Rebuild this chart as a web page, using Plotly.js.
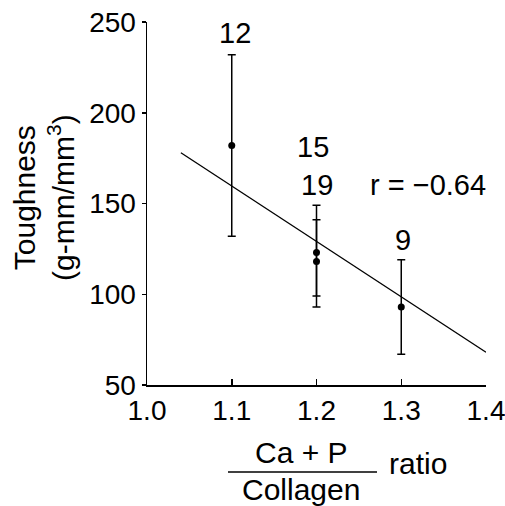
<!DOCTYPE html>
<html>
<head>
<meta charset="utf-8">
<script src="https://cdn.plot.ly/plotly-3.0.1.min.js"></script>
<style>html,body{margin:0;padding:0;background:#fff;}#chart{width:505px;height:506px;}</style>
</head>
<body>
<div id="chart"></div>
<script>
// Data
const ratio = [1.1, 1.2, 1.2, 1.3];
const toughness = [182, 123, 118, 93];
const errPlus = [50, 26, 23, 26];
const errMinus = [50, 30, 19, 26];
const sampleN = ["12", "15", "19", "9"];
const fitX = [1.04, 1.4];
const fitY = [178, 68];
const rLabel = "r = \u22120.64";
const xTicks = [1.0, 1.1, 1.2, 1.3, 1.4];
const xTickText = ["1.0", "1.1", "1.2", "1.3", "1.4"];
const yTicks = [50, 100, 150, 200, 250];
const yTitle = "Toughness<br>(g-mm/mm<sup>3</sup>)";
const xTitleTop = "Ca + P";
const xTitleBottom = "Collagen";
const xTitleSuffix = "ratio";

const FONT = "Liberation Sans, Arial, Helvetica, sans-serif";
const W = 505, H = 506, L = 147, R = 19, T = 22, B = 121;
const pw = W - L - R, ph = H - T - B;
const px = v => (v - L) / pw;
const py = v => 1 - (v - T) / ph;

const traces = [
  {
    x: ratio, y: toughness, type: "scatter", mode: "markers",
    marker: {color: "#000", size: 7},
    error_y: {type: "data", symmetric: false, array: errPlus, arrayminus: errMinus,
              color: "#000", thickness: 1.5, width: 4},
    showlegend: false, hoverinfo: "none"
  },
  {
    x: fitX, y: fitY, type: "scatter", mode: "lines",
    line: {color: "#000", width: 1.3}, showlegend: false, hoverinfo: "none"
  }
];

const txt = (size) => ({family: FONT, size: size, color: "#000"});
// label anchors (layout positions for the n labels)
const nPos = [[1.104, 244], [1.196, 181], [1.2, 160], [1.302, 130]];
const annotations = sampleN.map((t, i) => ({
  x: nPos[i][0], y: nPos[i][1], xref: "x", yref: "y", text: t, showarrow: false,
  xanchor: "center", yanchor: "middle", font: txt(29)
}));
annotations.push({x: px(428), y: 160, xref: "paper", yref: "y", text: rLabel, showarrow: false,
  xanchor: "center", yanchor: "middle", font: txt(29)});
annotations.push({x: px(301), y: py(453), xref: "paper", yref: "paper", text: xTitleTop, showarrow: false,
  xanchor: "center", yanchor: "middle", font: txt(30)});
annotations.push({x: px(301), y: py(489), xref: "paper", yref: "paper", text: xTitleBottom, showarrow: false,
  xanchor: "center", yanchor: "middle", font: txt(30)});
annotations.push({x: px(418), y: py(463), xref: "paper", yref: "paper", text: xTitleSuffix, showarrow: false,
  xanchor: "center", yanchor: "middle", font: txt(30)});
annotations.push({x: px(44), y: py(198), xref: "paper", yref: "paper", text: yTitle, showarrow: false,
  xanchor: "center", yanchor: "middle", textangle: -90, font: txt(30)});

const layout = {
  width: W, height: H,
  margin: {l: L, r: R, t: T, b: B, pad: 0},
  paper_bgcolor: "#fff", plot_bgcolor: "#fff",
  font: txt(27),
  xaxis: {
    range: [1.0, 1.4], tickvals: xTicks, ticktext: xTickText,
    showgrid: false, zeroline: false, showline: true, linecolor: "#000", linewidth: 1.5,
    ticks: "inside", ticklen: 6, tickwidth: 1.5, tickcolor: "#000",
    tickfont: txt(28), ticklabelstandoff: 0, ticklabeloverflow: "allow"
  },
  yaxis: {
    range: [50, 250], tickvals: yTicks,
    showgrid: false, zeroline: false, showline: true, linecolor: "#000", linewidth: 1.5,
    ticks: "outside", ticklen: 4, tickwidth: 1.5, tickcolor: "#000",
    tickfont: txt(28), ticklabelstandoff: 0, ticklabeloverflow: "allow"
  },
  shapes: [{
    type: "line", xref: "paper", yref: "paper",
    x0: px(228), x1: px(377), y0: py(472), y1: py(472),
    line: {color: "#000", width: 1.5}
  }],
  annotations: annotations
};

Plotly.newPlot("chart", traces, layout, {staticPlot: true, displayModeBar: false});
</script>
</body>
</html>
